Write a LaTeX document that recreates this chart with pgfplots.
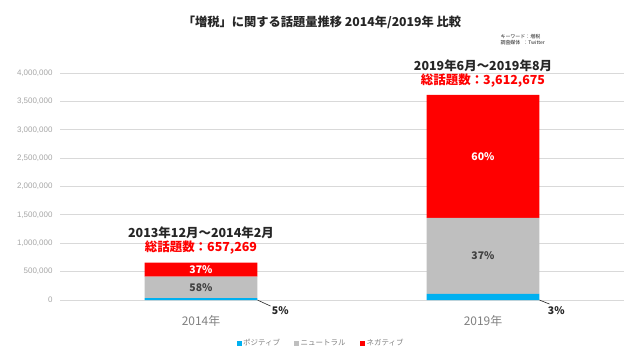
\documentclass[border=0pt]{standalone}
\usepackage{pgfplots}
\pgfplotsset{compat=1.18}
\usepackage{fontspec}
\setmainfont{Noto Sans CJK JP}
\newfontfamily\tickfont{Liberation Sans}
\definecolor{posc}{HTML}{00B0F0}
\definecolor{neuc}{HTML}{BFBFBF}
\definecolor{negc}{HTML}{FF0000}
\definecolor{gridc}{HTML}{D9D9D9}
\definecolor{tickc}{HTML}{A6A6A6}
\definecolor{catc}{HTML}{808080}
\definecolor{darkc}{HTML}{262626}
\definecolor{labc}{HTML}{404040}
\begin{document}
\begin{tikzpicture}[x=1bp,y=1bp]
\path[use as bounding box] (0,0) rectangle (640,360);
\begin{axis}[
  at={(60bp,60bp)}, anchor=south west,
  scale only axis, width=564bp, height=227bp,
  ybar stacked, bar width=0.4,
  xmin=-0.5, xmax=1.5, ymin=0, ymax=4000000,
  xtick={0,1}, xticklabels={2014年,2019年},
  ytick={0,500000,1000000,1500000,2000000,2500000,3000000,3500000,4000000},
  scaled y ticks=false,
  /pgf/number format/fixed,
  /pgf/number format/1000 sep={,},
  /pgf/number format/assume math mode=true,
  yticklabel style={font=\tickfont\fontsize{8}{9}\selectfont, text=tickc},
  xticklabel style={font=\fontsize{12}{13}\selectfont, text=catc, yshift=-12bp},
  ymajorgrids, grid style={gridc, line width=0.8bp},
  axis line style={draw=none},
  major tick length=0pt,
  ytick style={draw=none}, xtick style={draw=none},
  yticklabel shift=4bp,
  clip=false,
]
\addplot[fill=posc, draw=none] coordinates {(0,32863) (1,108380)};
\addplot[fill=neuc, draw=none] coordinates {(0,381216) (1,1336690)};
\addplot[fill=negc, draw=none] coordinates {(0,243190) (1,2167605)};
\coordinate (l1) at (axis cs:0,535000);
\coordinate (l2) at (axis cs:0,223000);
\coordinate (l3) at (axis cs:1,776000);
\coordinate (l4) at (axis cs:1,2527000);
\coordinate (b1) at (axis cs:0.2,0);
\coordinate (b2) at (axis cs:1.2,0);
\coordinate (t1) at (axis cs:0,657269);
\coordinate (t2) at (axis cs:1,3612675);
\end{axis}
% labels inside bars
\begin{scope}[font=\bfseries\fontsize{10.5}{11}\selectfont]
\node[text=white] at (l1) {37\%};
\node[text=labc] at (l2) {58\%};
\node[text=labc] at (l3) {37\%};
\node[text=white] at (l4) {60\%};
% leader lines
\draw[darkc, line width=0.6bp] (b1) -- ++(13bp,-6bp);
\node[text=darkc, anchor=west] at (b1) [xshift=11bp, yshift=-11bp] {5\%};
\draw[darkc, line width=0.6bp] (b2) -- ++(10bp,-4bp);
\node[text=darkc, anchor=west] at (b2) [xshift=5bp, yshift=-11bp] {3\%};
\end{scope}
% annotations above bars
\begin{scope}[font=\bfseries\fontsize{12.5}{13}\selectfont]
\node[text=darkc] at (t1) [yshift=30bp] {2013年12月～2014年2月};
\node[text=negc] at (t1) [yshift=15bp] {総話題数：657,269};
\node[text=darkc] at (t2) [yshift=29bp] {2019年6月～2019年8月};
\node[text=negc] at (t2) [yshift=14bp] {総話題数：3,612,675};
\end{scope}
% title
\node[text=darkc, font=\bfseries\fontsize{12.3}{13}\selectfont] at (322,338) {「増税」に関する話題量推移 2014年/2019年 比較};
% keyword note
\node[text=darkc, font=\fontsize{5}{6}\selectfont, anchor=west, align=left] at (497,320) {キーワード：増税\\調査媒体\hspace{3bp}：Twitter};
% legend
\begin{scope}[font=\fontsize{7.5}{8}\selectfont, text=catc]
\fill[posc] (236.5,14.5) rectangle (241.5,19.5);
\node[anchor=west, inner sep=1bp] at (242,17) {ポジティブ};
\fill[neuc] (294,14.5) rectangle (299,19.5);
\node[anchor=west, inner sep=1bp] at (299.5,17) {ニュートラル};
\fill[negc] (360,14.5) rectangle (365,19.5);
\node[anchor=west, inner sep=1bp] at (365.5,17) {ネガティブ};
\end{scope}
\end{tikzpicture}
\end{document}
